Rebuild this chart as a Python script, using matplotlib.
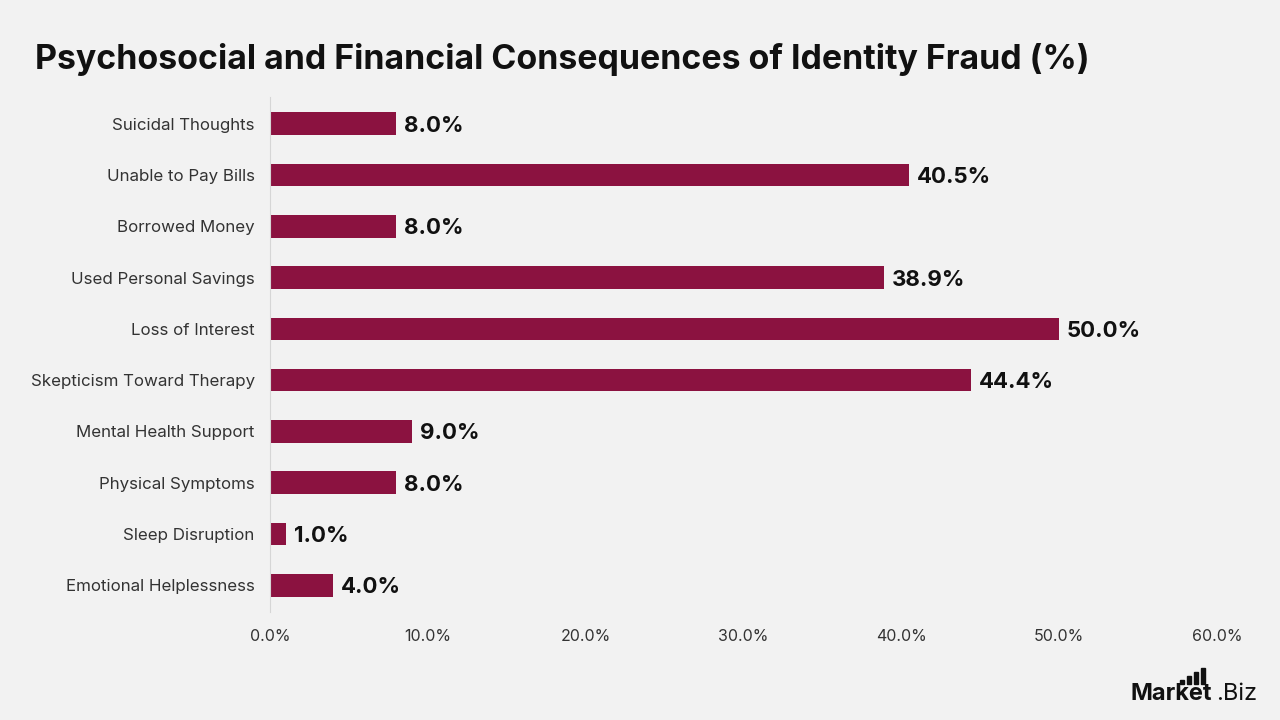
import matplotlib.pyplot as plt
from matplotlib.patches import Rectangle

categories = ["Suicidal Thoughts", "Unable to Pay Bills", "Borrowed Money",
              "Used Personal Savings", "Loss of Interest", "Skepticism Toward Therapy",
              "Mental Health Support", "Physical Symptoms", "Sleep Disruption",
              "Emotional Helplessness"]
values = [8.0, 40.5, 8.0, 38.9, 50.0, 44.4, 9.0, 8.0, 1.0, 4.0]
xticks = [0, 10, 20, 30, 40, 50, 60]

bg = "#f2f2f2"
bar_color = "#8b1240"
plt.rcParams['font.family'] = ['Inter', 'DejaVu Sans']

fig = plt.figure(figsize=(12.8, 7.2), dpi=100, facecolor=bg)
ax = fig.add_axes([0.2109, 0.15, 0.7399, 0.7153], facecolor=bg)

y = list(range(len(categories)))
ax.barh(y, values, height=0.44, color=bar_color)
for yi, v in zip(y, values):
    ax.text(v + 0.5, yi + 0.04, f"{v:.1f}%", va="center", ha="left",
            fontsize=16, fontweight="bold", color="#111111")

ax.set_yticks(y)
ax.set_yticklabels(categories, fontsize=12.2, color="#333333")
ax.set_ylim(9.52, -0.52)
ax.set_xlim(0, 60)
ax.set_xticks(xticks)
ax.set_xticklabels([f"{t:.1f}%" for t in xticks], fontsize=11.5, color="#333333")
ax.tick_params(length=0)
ax.tick_params(axis="y", pad=11)
ax.tick_params(axis="x", pad=12)
for s in ["top", "right", "bottom"]:
    ax.spines[s].set_visible(False)
ax.spines["left"].set_color("#d6d6d6")

fig.text(0.027, 0.918, "Psychosocial and Financial Consequences of Identity Fraud (%)",
         fontsize=24.4, fontweight="bold", color="#111111", ha="left", va="center")

# logo (pixel positions -> figure fraction)
W, H = 1280, 720
fig.text(1131 / W, 1 - 700 / H, "Market", fontsize=17, fontweight="bold",
         color="#111111", ha="left", va="baseline")
fig.text(1257 / W, 1 - 700 / H, ".Biz", fontsize=17, color="#111111",
         ha="right", va="baseline")
for x0, top in [(1180, 680), (1187, 676), (1194, 672), (1201, 668)]:
    fig.patches.append(Rectangle((x0 / W, 1 - 684 / H), 4 / W, (684 - top) / H,
                                 transform=fig.transFigure, color="#111111"))

fig.savefig("out.png", dpi=100, facecolor=bg)
